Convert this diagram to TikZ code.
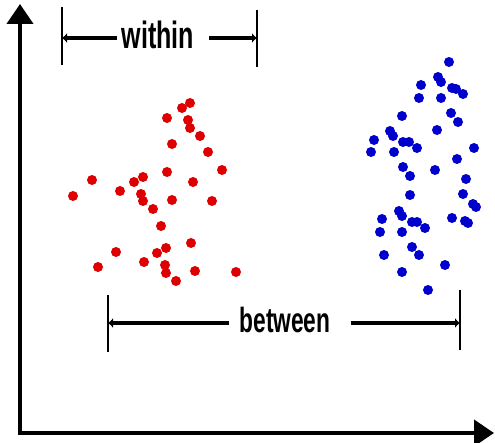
\documentclass[tikz,border=0pt]{standalone}
\usepackage{xcolor}
\usepackage{fontspec}
\setsansfont{Liberation Sans}
\usetikzlibrary{shapes,arrows.meta,positioning}

\definecolor{redpt}{RGB}{222,0,0}
\definecolor{bluept}{RGB}{0,0,205}

\tikzstyle{axis} = [draw, line width=4pt, -{Triangle[length=20pt,width=26pt]}]
\tikzstyle{dim} = [draw, line width=3.5pt, -{Latex[length=5pt,width=10pt]}]
\tikzstyle{bar} = [draw, line width=1.6pt]
\tikzstyle{label} = [font=\sffamily\bfseries, inner sep=0pt]

\begin{document}
\begin{tikzpicture}[x=1pt, y=-1pt]
    \useasboundingbox (0,0) rectangle (495,443);

    % axes
    \coordinate (origin) at (20,433);
    \coordinate (ytop) at (20,4);
    \coordinate (xend) at (494,433);
    \path [axis] (origin) -- (ytop);
    \path [axis] ([xshift=-2pt]origin) -- (xend);

    % red group
    \foreach \px/\py in {190/103,182/108,167/118,188/120,190/128,200/136,172/144,
        208/152,222/170,167/172,143/177,134/182,92/180,193/182,73/196,120/191,
        141/194,143/201,172/200,212/201,153/209,161/226,191/243,166/248,157/253,
        116/252,144/262,165/265,166/273,98/267,195/271,176/281,236/272}
        \fill [redpt] (\px,\py) circle (5);

    % blue group
    \foreach \px/\py in {449/62,438/77,441/82,421/85,452/88,456/89,463/94,419/98,
        441/98,402/116,451/113,458/122,437/130,390/131,393/136,374/140,371/152,
        394/152,403/142,409/142,417/148,474/148,457/159,403/167,410/176,435/170,
        466/179,410/195,463/194,473/204,476/207,399/211,402/216,382/219,452/218,
        412/222,417/222,465/221,468/223,425/228,380/232,402/232,412/247,384/255,
        419/255,445/265,402/272,428/290}
        \fill [bluept] (\px,\py) circle (5);

    % within
    \node [label, font=\sffamily\bfseries\fontsize{38}{38}\selectfont] (within) at (158,35) {\scalebox{0.66}[1]{within}};
    \coordinate (wL) at (62,38);
    \coordinate (wR) at (257,38);
    \path [bar] (62,7) -- (62,65);
    \path [bar] (257,10) -- (257,67);
    \path [dim] ([xshift=-5pt]within.west |- wL) -- (wL);
    \path [dim] ([xshift=15pt]within.east |- wR) -- (wR);

    % between
    \node [label, font=\sffamily\bfseries\fontsize{35}{35}\selectfont] (between) at (285,320) {\scalebox{0.65}[1]{between}};
    \coordinate (bL) at (108,323);
    \coordinate (bR) at (460,323);
    \path [bar] (108,295) -- (108,352);
    \path [bar] (460,290) -- (460,350);
    \path [dim] ([xshift=-10pt]between.west |- bL) -- (bL);
    \path [dim] ([xshift=20pt]between.east |- bR) -- (bR);

\end{tikzpicture}
\end{document}
